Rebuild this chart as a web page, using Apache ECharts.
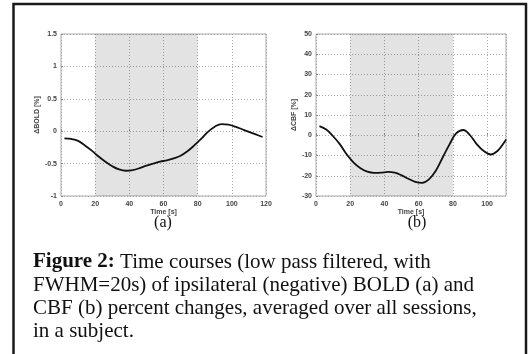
<!DOCTYPE html>
<html>
<head>
<meta charset="utf-8">
<script src="https://cdn.jsdelivr.net/npm/echarts@6/dist/echarts.min.js"></script>
<style>
  html, body { margin: 0; padding: 0; background: #fff; }
  #chart { width: 532px; height: 354px; }
</style>
</head>
<body>
<div id="chart"></div>
<script>
// time axis (s)
var boldTime = [2, 6, 10, 14, 18, 22, 26, 30, 34, 38, 42, 46, 50, 54, 58, 62, 66, 70, 74, 78, 82, 86, 90, 94, 98, 102, 106, 110, 114, 118];
var boldValues = [-0.11, -0.12, -0.15, -0.22, -0.30, -0.39, -0.47, -0.54, -0.59, -0.61, -0.60, -0.57, -0.53, -0.50, -0.47, -0.45, -0.42, -0.38, -0.31, -0.22, -0.12, -0.01, 0.07, 0.11, 0.10, 0.07, 0.03, -0.01, -0.05, -0.09];

var cbfTime = [2, 6, 10, 14, 18, 22, 26, 30, 34, 38, 42, 46, 50, 54, 58, 62, 66, 70, 74, 78, 82, 86, 90, 94, 98, 102, 106, 110, 111];
var cbfValues = [4.5, 2.8, -0.5, -4.5, -9.5, -13.5, -16.3, -18.0, -18.6, -18.5, -18.1, -18.5, -19.8, -21.5, -23.0, -23.5, -21.8, -17.5, -11.0, -4.5, 1.0, 2.6, 0.0, -4.5, -7.8, -9.5, -7.8, -3.5, -2.0];

var stimWindow = [20, 80];

var captionLines = [
  '{b|Figure 2:} Time courses (low pass filtered, with',
  'FWHM=20s) of ipsilateral (negative) BOLD (a) and',
  'CBF (b) percent changes, averaged over all sessions,',
  'in a subject.'
];

function pairs(xs, ys) {
  return xs.map(function (x, i) { return [x, ys[i]]; });
}

var tickFont = { fontSize: 7, color: '#444', fontFamily: 'Liberation Sans', fontWeight: 'bold' };
var dotted = { show: true, lineStyle: { color: '#aaa', type: [1, 2], width: 1 } };

function xAx(idx, max) {
  return {
    type: 'value', gridIndex: idx, min: 0, max: max, interval: 20,
    name: 'Time [s]', nameLocation: 'middle', nameGap: 13,
    nameTextStyle: { fontSize: 7, color: '#444', fontFamily: 'Liberation Sans', fontWeight: 'bold' },
    axisLine: { show: false },
    axisTick: { show: true, inside: true, length: 2, lineStyle: { color: '#888' } },
    axisLabel: Object.assign({ margin: 5, showMaxLabel: idx === 0 }, tickFont),
    splitLine: dotted
  };
}

function yAx(idx, min, max, interval, name) {
  return {
    type: 'value', gridIndex: idx, min: min, max: max, interval: interval,
    name: name, nameLocation: 'middle', nameGap: idx === 0 ? 20 : 16, nameRotate: 90,
    nameTextStyle: { fontSize: 7, color: '#444', fontFamily: 'Liberation Sans', fontWeight: 'bold' },
    axisLine: { show: false },
    axisTick: { show: true, inside: true, length: 2, lineStyle: { color: '#888' } },
    axisLabel: Object.assign({ margin: 4 }, tickFont),
    splitLine: dotted
  };
}

function shade() {
  return {
    silent: true,
    itemStyle: { color: 'rgba(0,0,0,0.11)' },
    data: [[{ xAxis: stimWindow[0] }, { xAxis: stimWindow[1] }]]
  };
}

var chart = echarts.init(document.getElementById('chart'), null, { renderer: 'canvas' });
var graphics = [
  {
    type: 'rect', z: 100,
    shape: { x: 13.5, y: 4, width: 512.5, height: 360 },
    style: { fill: 'none', stroke: '#1a1a1a', lineWidth: 2.5 }
  },
  { type: 'text', x: 163, y: 223, style: { text: '(a)', font: '16px "Liberation Serif"', fill: '#111', align: 'center', verticalAlign: 'middle' } },
  { type: 'text', x: 417, y: 223, style: { text: '(b)', font: '16px "Liberation Serif"', fill: '#111', align: 'center', verticalAlign: 'middle' } }
];
captionLines.forEach(function (line, i) {
  graphics.push({
    type: 'text', x: 33, y: 262 + i * 23,
    style: {
      text: line, font: '21px "Liberation Serif"', fill: '#111',
      align: 'left', verticalAlign: 'middle',
      rich: { b: { fontWeight: 'bold', fontSize: 21, fontFamily: 'Liberation Serif', fill: '#111' } }
    }
  });
});

chart.setOption({
  animation: false,
  backgroundColor: '#fff',
  grid: [
    { left: 61, top: 34, width: 205, height: 162, show: true, borderColor: '#aaa', borderWidth: 1 },
    { left: 316, top: 34, width: 190, height: 162, show: true, borderColor: '#aaa', borderWidth: 1 }
  ],
  xAxis: [xAx(0, 120), xAx(1, 111)],
  yAxis: [yAx(0, -1, 1.5, 0.5, 'ΔBOLD [%]'), yAx(1, -30, 50, 10, 'ΔCBF [%]')],
  series: [
    {
      type: 'line', xAxisIndex: 0, yAxisIndex: 0, data: pairs(boldTime, boldValues),
      smooth: 0.4, showSymbol: false, lineStyle: { color: '#111', width: 1.8 },
      markArea: shade()
    },
    {
      type: 'line', xAxisIndex: 1, yAxisIndex: 1, data: pairs(cbfTime, cbfValues),
      smooth: 0.4, showSymbol: false, lineStyle: { color: '#111', width: 1.8 },
      markArea: shade()
    }
  ],
  graphic: graphics
});
</script>
</body>
</html>
